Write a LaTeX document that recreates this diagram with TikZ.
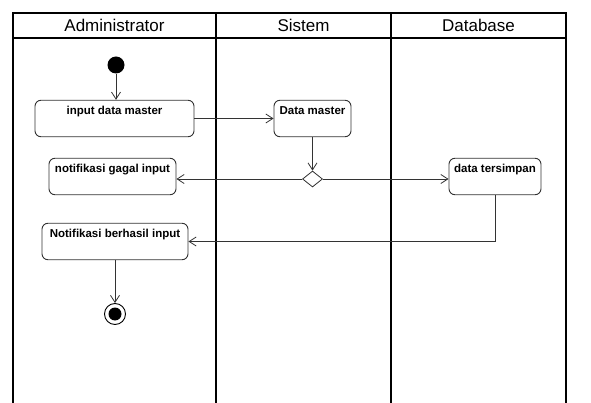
\documentclass[tikz,border=0pt]{standalone}
\usepackage{fontspec}
\setmainfont{Liberation Sans}
\usetikzlibrary{arrows.meta}
\usetikzlibrary{shapes.geometric}

\begin{document}
\begin{tikzpicture}[x=1pt,y=-1pt,>={Straight Barb[length=7pt,width=9pt]},
                    act/.style={draw=black!80,line width=0.9pt,rounded corners=6pt,font=\fontsize{11.5}{13}\selectfont\bfseries,text height=11.5pt,text depth=19pt,inner ysep=3pt,inner xsep=0pt},
                    lane/.style={line width=1.3pt},
                    flow/.style={->,draw=black!80,line width=0.8pt}]
                    \useasboundingbox[fill=white] (0,0) rectangle (591,403);
                    % swimlanes
                    \draw[lane] (13,403) -- (13,13) -- (566,13) -- (566,403);
                    \draw[lane] (13,38) -- (566,38);
                    \draw[lane] (216,13) -- (216,403);
                    \draw[lane] (391,13) -- (391,403);
                    \node[font=\fontsize{17}{20}\selectfont] (admin) at (114.5,25.5) {Administrator};
                    \node[font=\fontsize{17}{20}\selectfont] (sistem) at (303.5,25.5) {Sistem};
                    \node[font=\fontsize{17}{20}\selectfont] (db) at (478.5,25.5) {Database};
                    % nodes
                    \node[circle,fill=black,minimum size=17pt,inner sep=0pt] (init) at (116,65) {};
                    \node[act,minimum width=159pt] (input) at (114.5,118.5) {input data master};
                    \node[act,minimum width=77pt] (master) at (312.5,118.5) {Data master};
                    \node[diamond,draw=black!80,line width=0.8pt,minimum width=20pt,minimum height=16pt,inner sep=0pt] (dec) at (312.5,179) {};
                    \node[act,minimum width=127pt] (gagal) at (112.5,176.5) {notifikasi gagal input};
                    \node[act,minimum width=92pt] (simpan) at (495,176.5) {data tersimpan};
                    \node[act,minimum width=146pt] (berhasil) at (115,241.5) {Notifikasi berhasil input};
                    \node[circle,draw=black,line width=0.9pt,minimum size=21pt,inner sep=0pt,
                          path picture={\fill (path picture bounding box.center) circle (6.5pt);}] (final) at (115,314) {};
                    % flows
                    \draw[flow] (init) -- (init |- input.north);
                    \draw[flow] (input.east) -- (master.west);
                    \draw[flow] (master.south) -- (dec.north);
                    \draw[flow] (dec.west) -- (gagal.east |- dec.west);
                    \draw[flow] (dec.east) -- (simpan.west |- dec.east);
                    \draw[flow] (simpan.south) |- (berhasil.east);
                    \draw[flow] (berhasil.south) -- (final.north);
                \end{tikzpicture}
\end{document}
